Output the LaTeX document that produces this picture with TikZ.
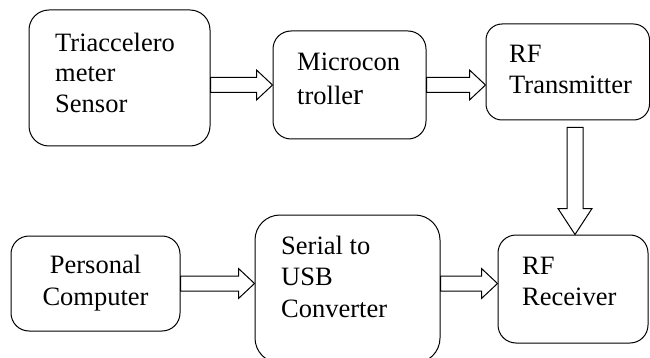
\documentclass[tikz,border=0pt]{standalone}
\usepackage{fontspec}
\setmainfont{Liberation Serif}
\usetikzlibrary{calc}

\tikzset{
  box/.style={draw, line width=1pt, rounded corners=18pt, inner sep=0pt},
  lbl/.style={inner sep=0pt, font=\fontsize{26.5}{31}\selectfont},
  blk/.style={draw, line width=1pt, fill=white, line join=miter}
}

% horizontal block arrow: #1 start, #2 tip (same height)
\newcommand\hblock[2]{%
  \draw[blk] let \p1=(#1), \p2=(#2) in
    (\x1,\y1+7.5pt) -- (\x2-16pt,\y1+7.5pt) -- (\x2-16pt,\y1+15pt) -- (\x2,\y1)
    -- (\x2-16pt,\y1-15pt) -- (\x2-16pt,\y1-7.5pt) -- (\x1,\y1-7.5pt) -- cycle;}
% vertical block arrow pointing down: #1 top, #2 tip
\newcommand\vblock[2]{%
  \draw[blk] let \p1=(#1), \p2=(#2) in
    (\x2-8pt,\y1) -- (\x2+8pt,\y1) -- (\x2+8pt,\y2+26pt) -- (\x2+17pt,\y2+26pt)
    -- (\x2,\y2) -- (\x2-17pt,\y2+26pt) -- (\x2-8pt,\y2+26pt) -- cycle;}

\begin{document}
\begin{tikzpicture}[x=1pt,y=-1pt]
  \useasboundingbox (0,0) rectangle (650,358);
  \clip (0,0) rectangle (650,358);

  % blocks
  \node[box, rounded corners=20pt, minimum width=181pt, minimum height=136pt] (b1) at (119.5,78) {};
  \node[box, minimum width=153pt, minimum height=108pt] (b2) at (349.5,85) {};
  \node[box, rounded corners=16pt, minimum width=163.5pt, minimum height=96pt] (b3) at (567.75,72) {};
  \node[box, minimum width=169pt, minimum height=95pt] (b4) at (95.5,283.5) {};
  \node[box, rounded corners=25pt, minimum width=185pt, minimum height=148pt] (b5) at (347.5,289) {};
  \node[box, minimum width=150pt, minimum height=108pt] (b6) at (573,289) {};

  % labels
  \node[lbl, anchor=north west, align=left] (t1) at (55,32.9) {Triaccelero\\[-1pt]meter\\Sensor};
  \node[lbl, anchor=north west, align=left] (t2) at (297,52.5) {Microcon\\[3pt]trolle{\fontsize{30}{31}\selectfont r}};
  \node[lbl, anchor=north west, align=left] (t3) at (509,44.5) {RF\\Transmitter};
  \node[lbl, anchor=north, align=center] (t4) at (95.5,254.9) {Personal\\[1pt]Computer};
  \node[lbl, anchor=north west, align=left] (t5) at (281,235.9) {Serial to\\USB\\[1pt]Converter};
  \node[lbl, anchor=north west, align=left] (t6) at (522,256.5) {RF\\Receiver};

  % connectors
  \hblock{b1.east |- b2.west}{b2.west}
  \hblock{b2.east}{b3.west |- b2.east}
  \coordinate (vtop) at ($(b3.south -| b6.north)+(2,7)$);
  \vblock{vtop}{$(b6.north)+(2,0)$}
  \hblock{b4.east}{b5.west |- b4.east}
  \hblock{b5.east |- b4.east}{b6.west |- b4.east}
\end{tikzpicture}
\end{document}
